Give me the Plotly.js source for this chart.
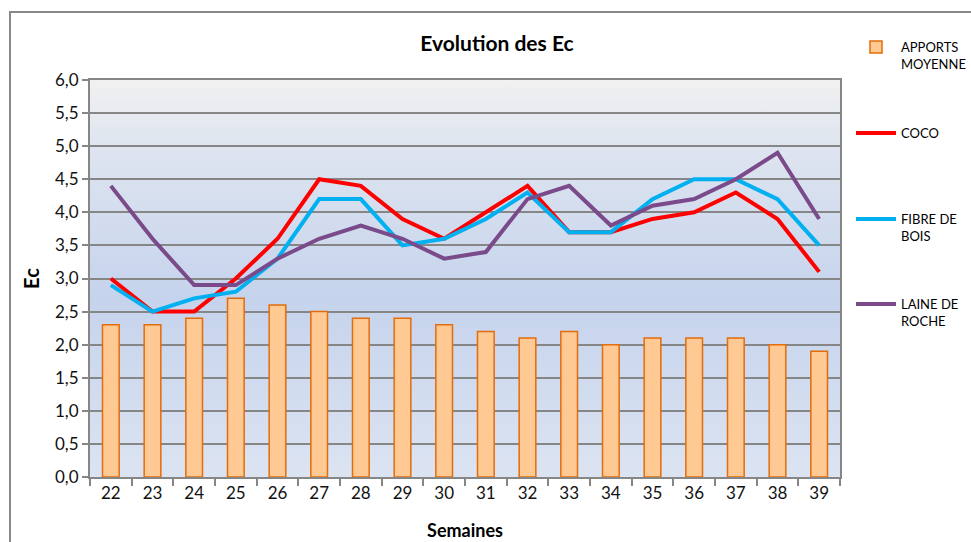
<!DOCTYPE html>
<html><head><meta charset="utf-8">
<script src="https://cdn.plot.ly/plotly-3.0.1.min.js"></script>
<style>html,body{margin:0;padding:0;background:#fff;}#chart{width:971px;height:542px;}</style>
</head><body><div id="chart"></div>
<script>
const semaines = ['22','23','24','25','26','27','28','29','30','31','32','33','34','35','36','37','38','39'];
const apports = [2.3,2.3,2.4,2.7,2.6,2.5,2.4,2.4,2.3,2.2,2.1,2.2,2.0,2.1,2.1,2.1,2.0,1.9];
const coco = [3.0,2.5,2.5,3.0,3.6,4.5,4.4,3.9,3.6,4.0,4.4,3.7,3.7,3.9,4.0,4.3,3.9,3.1];
const fibre = [2.9,2.5,2.7,2.8,3.3,4.2,4.2,3.5,3.6,3.9,4.3,3.7,3.7,4.2,4.5,4.5,4.2,3.5];
const laine = [4.4,3.6,2.9,2.9,3.3,3.6,3.8,3.6,3.3,3.4,4.2,4.4,3.8,4.1,4.2,4.5,4.9,3.9];

const F = 'Lato, "Liberation Sans", sans-serif';
const L = 90, T = 80, R = 840, B = 477;
const px = x => (x - L) / (R - L);
const py = y => (B - y) / (B - T);

const grad = '<svg xmlns="http://www.w3.org/2000/svg" width="100" height="400" preserveAspectRatio="none">' +
  '<defs><linearGradient id="g" x1="0" y1="0" x2="0" y2="1">' +
  '<stop offset="0" stop-color="#F1F1F1"/><stop offset="0.15" stop-color="#E0E6F0"/>' +
  '<stop offset="0.55" stop-color="#C5D3EC"/><stop offset="1" stop-color="#DCE4F2"/>' +
  '</linearGradient></defs><rect width="100" height="400" fill="url(#g)"/></svg>';
const gradURI = 'data:image/svg+xml;base64,' + btoa(grad);

const traces = [
  {type:'bar', x:semaines, y:apports, name:'APPORTS<br>MOYENNE', width:0.4,
   marker:{color:'#FFC993', line:{color:'#E46C0A', width:1.5}}, legend:'legend'},
  {type:'scatter', mode:'lines', x:semaines, y:coco, name:'COCO',
   line:{color:'#FF0000', width:4}, legend:'legend2'},
  {type:'scatter', mode:'lines', x:semaines, y:fibre, name:'FIBRE DE<br>BOIS',
   line:{color:'#00B0F0', width:4}, legend:'legend3'},
  {type:'scatter', mode:'lines', x:semaines, y:laine, name:'LAINE DE<br>ROCHE',
   line:{color:'#7A4A8A', width:4}, legend:'legend4'}
];

const legBase = {x: px(851), xanchor:'left', yanchor:'top', valign:'top',
  font:{family:F, size:13, color:'#000'}, bgcolor:'rgba(0,0,0,0)', itemwidth:40};

const layout = {
  width:971, height:542,
  margin:{l:L, r:971-R, t:T, b:542-B, autoexpand:false},
  paper_bgcolor:'#fff', plot_bgcolor:'rgba(0,0,0,0)',
  separators:', ',
  font:{family:F, color:'#000'},
  title:{text:'<b>Evolution des Ec</b>', font:{family:F, size:21, color:'#000'},
    x:px(497), xref:'paper', xanchor:'center', y:1-44/542, yanchor:'middle'},
  showlegend:true,
  legend:Object.assign({}, legBase, {y:py(32)}),
  legend2:Object.assign({}, legBase, {y:py(118)}),
  legend3:Object.assign({}, legBase, {y:py(204)}),
  legend4:Object.assign({}, legBase, {y:py(289)}),
  xaxis:{type:'category', tickson:'boundaries', ticks:'outside', ticklen:7, tickwidth:2,
    tickcolor:'#868686', showline:true, linecolor:'#868686', linewidth:2, mirror:true,
    showgrid:false, tickfont:{family:F, size:17, color:'#111'},
    title:{text:'<b>Semaines</b>', font:{family:F, size:18, color:'#000'}, standoff:22}},
  yaxis:{range:[0,6], dtick:0.5, tickformat:'.1f', ticks:'outside', ticklen:6, tickwidth:2,
    tickcolor:'#868686', showline:true, linecolor:'#868686', linewidth:2, mirror:true,
    showgrid:true, gridcolor:'#868686', gridwidth:2, zeroline:false,
    tickfont:{family:F, size:17, color:'#111'},
    title:{text:'<b>Ec</b>', font:{family:F, size:20, color:'#000'}, standoff:10}},
  images:[{source:gradURI, xref:'paper', yref:'paper', x:0, y:1, sizex:1, sizey:1,
    xanchor:'left', yanchor:'top', sizing:'stretch', layer:'below'}],
  shapes:[
    {type:'line', xref:'paper', yref:'paper', x0:px(9), x1:px(980), y0:py(12), y1:py(12),
     line:{color:'#898989', width:2}},
    {type:'line', xref:'paper', yref:'paper', x0:px(10), x1:px(10), y0:py(12), y1:py(560),
     line:{color:'#898989', width:2}}
  ]
};

Plotly.newPlot('chart', traces, layout, {displayModeBar:false, staticPlot:true});
</script></body></html>
